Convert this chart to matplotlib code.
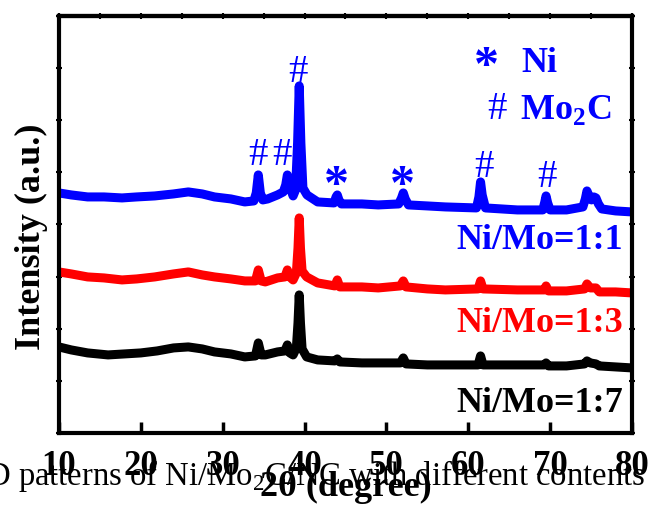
import matplotlib
matplotlib.use("Agg")
import matplotlib.pyplot as plt
from matplotlib.ticker import MultipleLocator, NullFormatter

plt.rcParams["font.family"] = ["Liberation Serif", "DejaVu Serif"]
plt.rcParams["mathtext.fontset"] = "custom"
plt.rcParams["mathtext.rm"] = "Liberation Serif"
plt.rcParams["mathtext.bf"] = "Liberation Serif:bold"

# XRD traces (2theta in degree, intensity in a.u.)
tt_11 = [10.0, 11.5, 13.5, 15.5, 17.7, 19.5, 21.7, 24.0, 25.8, 27.5, 29.0, 31.0, 32.7,
         33.8, 34.1, 34.35, 34.6, 34.9, 35.5, 36.7, 37.4, 37.7, 37.9, 38.2, 38.6,
         38.9, 39.15, 39.35, 39.55, 39.8, 40.3, 41.6, 43.6, 43.85, 44.0, 44.2, 44.5,
         47.0, 49.0, 51.5, 51.85, 52.06, 52.3, 52.7, 55.0, 57.2, 61.0, 61.3, 61.5,
         61.7, 62.1, 66.0, 69.1, 69.35, 69.5, 69.7, 70.0, 72.0, 74.0, 74.3, 74.5,
         74.8, 75.05, 75.35, 75.6, 75.9, 76.3, 78.0, 80.0]
int_11 = [240, 238, 236, 236, 235, 236, 237, 239, 241, 239, 236, 234, 231,
          232, 240, 258, 240, 233, 234, 238, 241, 248, 258, 246, 237,
          243, 290, 347, 290, 245, 238, 231, 230, 236, 238, 233, 229,
          229, 228, 229, 235, 240, 234, 228, 227, 226, 225, 236, 251,
          238, 225, 223, 223, 231, 237, 230, 223, 223, 226, 234, 242,
          236, 233, 236, 235, 229, 224, 222, 221]

tt_13 = [10.0, 11.5, 13.5, 15.5, 17.7, 19.5, 21.7, 24.0, 25.8, 27.5, 29.0, 31.0, 32.7,
         34.0, 34.35, 34.7, 35.2, 36.7, 37.6, 37.9, 38.2, 38.6, 39.0, 39.2, 39.35,
         39.5, 39.7, 40.26, 41.6, 43.7, 44.0, 44.3, 47.0, 49.0, 51.7, 52.06, 52.4,
         55.0, 57.2, 61.2, 61.5, 61.8, 66.0, 69.3, 69.5, 69.8, 72.0, 74.2, 74.5,
         74.9, 75.6, 76.0, 78.0, 80.0]
int_13 = [161, 159, 156, 155, 153, 154, 156, 159, 161, 158, 156, 154, 152,
          152, 163, 152, 151, 155, 156, 163, 156, 153, 160, 185, 215,
          185, 162, 156, 150, 147, 153, 146, 146, 145, 147, 152, 146,
          144, 143, 144, 152, 144, 143, 143, 147, 142, 142, 144, 149,
          145, 145, 141, 141, 140]

tt_17 = [10.0, 11.5, 13.5, 16.0, 18.0, 20.0, 22.0, 24.0, 25.8, 27.5, 29.0, 31.0, 32.7,
         34.0, 34.35, 34.7, 35.2, 36.7, 37.6, 37.9, 38.2, 38.6, 39.0, 39.2, 39.35,
         39.5, 39.7, 40.26, 41.6, 43.7, 44.0, 44.3, 47.0, 49.0, 51.7, 52.06, 52.4,
         55.0, 57.2, 61.2, 61.5, 61.8, 66.0, 69.3, 69.5, 69.8, 72.0, 74.2, 74.5,
         74.9, 75.6, 76.0, 78.0, 80.0]
int_17 = [86, 83, 80, 78, 79, 80, 82, 85, 86, 84, 81, 79, 76,
          77, 90, 78, 78, 81, 82, 88, 80, 78, 85, 110, 138,
          110, 84, 76, 73, 72, 74, 71, 70, 70, 70, 75, 69,
          68, 68, 68, 77, 68, 68, 68, 70, 67, 67, 69, 72,
          70, 69, 67, 66, 65]

series = [(tt_11, int_11, "blue", "Ni/Mo=1:1", 184),
          (tt_13, int_13, "red", "Ni/Mo=1:3", 101),
          (tt_17, int_17, "black", "Ni/Mo=1:7", 21)]

# peak markers: (2theta, baseline intensity, symbol)
marks_x = [34.35, 37.3, 39.25, 43.84, 51.96, 61.9, 69.67]
marks_y = [268, 268, 351, 234, 234, 256, 246]
marks_s = ["#", "#", "#", "*", "*", "#", "#"]

fig = plt.figure(figsize=(6.48, 5.16), dpi=100)
ax = fig.add_axes([0.091, 0.161, 0.8843, 0.8081])

for tt, inten, col, lab, ylab in series:
    ax.plot(tt, inten, color=col, lw=6.5, solid_joinstyle="round", solid_capstyle="butt")
    ax.text(78.9, ylab, lab, color=col, fontsize=26, fontweight="bold",
            ha="right", va="baseline")

for x, y, s in zip(marks_x, marks_y, marks_s):
    if s == "#":
        ax.text(x, y, s, color="blue", fontsize=28, ha="center", va="baseline")
    else:
        ax.text(x, y, s, color="blue", fontsize=36, fontweight="bold",
                ha="center", va="baseline")

# legend of phases
ax.text(62.25, 353, "*", color="blue", fontsize=36, fontweight="bold", ha="center", va="baseline")
ax.text(66.44, 361, "Ni", color="blue", fontsize=26, fontweight="bold", ha="left", va="baseline")
ax.text(63.57, 314, "#", color="blue", fontsize=28, ha="center", va="baseline")
ax.text(66.3, 314, r"Mo$_\mathbf{2}$C", color="blue", fontsize=26, fontweight="bold",
        ha="left", va="baseline")

ax.set_xlim(10, 80)
ax.set_ylim(0, 417)
ax.xaxis.set_major_locator(MultipleLocator(10))
ax.yaxis.set_major_locator(MultipleLocator(52.125))
ax.yaxis.set_major_formatter(NullFormatter())
ax.tick_params(axis="x", direction="in", length=8, width=2.5, labelsize=25, pad=12)
ax.tick_params(axis="y", direction="inout", length=5, width=1.5, left=True, right=True)
for lbl in ax.get_xticklabels():
    lbl.set_fontweight("bold")

top = ax.secondary_xaxis("top")
top.xaxis.set_major_locator(MultipleLocator(5))
top.xaxis.set_major_formatter(NullFormatter())
top.tick_params(direction="inout", length=5, width=1.5)
top.spines["top"].set_linewidth(3)

for sp in ax.spines.values():
    sp.set_linewidth(3)

ax.set_xlabel("2θ (degree)", fontsize=26, fontweight="bold")
ax.xaxis.set_label_coords(0.5, -0.092)
ax.set_ylabel("Intensity (a.u.)", fontsize=26, fontweight="bold")
ax.yaxis.set_label_coords(-0.02, 0.47)

# figure caption cut off at the left edge
fig.text(645 / 648, 1 - 485 / 516, r"XRD patterns of Ni/Mo$_\mathrm{2}$C/NC with different contents",
         fontsize=23.5, ha="right", va="baseline")

fig.savefig("out.png", dpi=100)
